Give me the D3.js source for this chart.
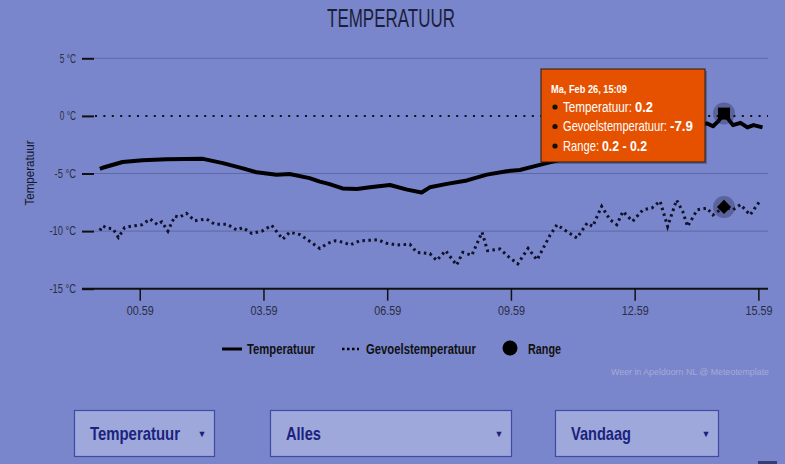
<!DOCTYPE html>
<html>
<head>
<meta charset="utf-8">
<script src="https://cdn.jsdelivr.net/npm/d3@7"></script>
<style>
  body { margin: 0; background: #7986cb; }
  svg { display: block; font-family: 'Liberation Sans', Arial, sans-serif; }
</style>
</head>
<body>
<svg id="main"></svg>
<script>
// temperatuur (solid)
const tempTimes = ['00:01','00:05','00:34','01:03','01:38','02:31','03:00','03:29','03:49','04:18','04:37','05:06','05:21','05:34',
  '05:54','06:15','06:34','07:03','07:28','07:49','08:01','08:26','08:55','09:24','09:53','10:12','10:31','10:51',
  '11:39','12:37','13:36','14:19','14:44','14:53','15:00','15:09','15:22','15:33','15:43','15:52','16:05'];
const tempValues = [-4.6,-4.5,-4.0,-3.85,-3.76,-3.73,-4.1,-4.55,-4.9,-5.1,-5.05,-5.4,-5.7,-5.9,
  -6.3,-6.35,-6.2,-6.0,-6.4,-6.65,-6.2,-5.9,-5.6,-5.1,-4.8,-4.7,-4.4,-4.1,
  -3.4,-2.5,-1.6,-1.0,-0.65,-0.9,-0.5,0.2,-0.8,-0.6,-1.0,-0.8,-1.0];

// gevoelstemperatuur (dotted)
const feelTimes = ['00:01','00:05','00:12','00:20','00:28','00:37','00:49','01:02','01:14','01:25','01:31','01:40','01:50','01:57',
  '02:07','02:19','02:36','02:48','03:06','03:20','03:29','03:42','03:57','04:11','04:27','04:37','04:52','05:21','05:33',
  '05:43','05:54','06:05','06:19','06:45','06:58','07:13','07:32','07:42','08:01','08:11','08:24','08:40','08:49','09:02',
  '09:17','09:25','09:43','09:55','10:09','10:24','10:37','10:56','11:06','11:17','11:35','11:50','11:58','12:11','12:23',
  '12:33','12:42','12:56','13:11','13:24','13:36','13:47','14:00','14:09','14:16','14:30','14:44','14:53','15:09','15:22',
  '15:33','15:47','16:01'];
const feelValues = [-9.95,-9.55,-9.75,-9.8,-10.55,-9.7,-9.55,-9.45,-8.95,-9.45,-9.2,-10.0,-8.7,-8.8,
  -8.45,-9.1,-8.95,-9.4,-9.4,-9.9,-9.7,-10.2,-10.0,-9.5,-10.7,-10.1,-10.3,-11.5,-11.05,
  -10.85,-10.95,-11.2,-10.85,-10.75,-11.05,-11.2,-11.15,-11.85,-11.95,-12.55,-11.7,-12.95,-11.85,-12.1,
  -10.1,-11.7,-11.55,-12.2,-12.85,-11.5,-12.5,-10.35,-9.45,-9.9,-10.6,-9.3,-9.6,-7.85,-9.0,
  -9.45,-8.3,-9.15,-8.15,-8.0,-7.4,-9.6,-7.3,-8.3,-9.6,-8.15,-8.0,-8.6,-7.9,-8.15,
  -7.7,-8.6,-7.4];

const yTicks = [-15, -10, -5, 0, 5];
const xTickTimes = ['00:59','03:59','06:59','09:59','12:59','15:59'];
const xDomain = ['2024-02-25 23:35', '2024-02-26 16:13'];
const hoverTime = '15:09';
const legendItems = ['Temperatuur', 'Gevoelstemperatuur', 'Range'];
const dropdowns = ['Temperatuur', 'Alles', 'Vandaag'];

const width = 785, height = 464;
const parseFull = d3.timeParse('%Y-%m-%d %H:%M');
const parse = t => parseFull('2024-02-26 ' + t);

// squeeze text horizontally to the narrow look of the original font
const fit = (sel, w) => sel.each(function () {
  const n = this.getComputedTextLength();
  const x0 = +this.getAttribute('x') || 0;
  const s = w / n;
  this.setAttribute('transform', `translate(${x0},0) scale(${s},1) translate(${-x0},0)`);
});

const svg = d3.select('#main')
  .attr('width', width)
  .attr('height', height);

const x = d3.scaleTime()
  .domain(xDomain.map(parseFull))
  .range([82, 768]);

const y = d3.scaleLinear()
  .domain([-15, 5])
  .range([288.7, 58.3]);

const temp = tempTimes.map((t, i) => ({ t: parse(t), v: tempValues[i] }));
const feel = feelTimes.map((t, i) => ({ t: parse(t), v: feelValues[i] }));

// title
svg.append('text')
  .text('TEMPERATUUR')
  .attr('x', 391)
  .attr('y', 27)
  .attr('text-anchor', 'middle')
  .attr('font-size', '25px')
  .attr('fill', '#1c1f3a')
  .call(fit, 128);

// grid lines
svg.selectAll('.grid')
  .data(yTicks.filter(d => d !== 0 && d !== -15))
  .enter()
  .append('line')
  .attr('class', 'grid')
  .attr('x1', 94)
  .attr('x2', 768)
  .attr('y1', d => y(d))
  .attr('y2', d => y(d))
  .attr('stroke', '#5e68a6')
  .attr('stroke-width', 1);

// freezing line
svg.append('line')
  .attr('x1', 95)
  .attr('x2', 768)
  .attr('y1', y(0))
  .attr('y2', y(0))
  .attr('stroke', '#111')
  .attr('stroke-width', 2)
  .attr('stroke-dasharray', '2,6.4');

// y axis
const yAxis = svg.append('g')
  .attr('transform', 'translate(94,0)')
  .call(d3.axisLeft(y).tickValues(yTicks).tickSize(12).tickPadding(6).tickFormat(d => d + ' °C'));
yAxis.select('.domain').remove();
yAxis.selectAll('.tick line').attr('stroke', '#111').attr('stroke-width', 2);
yAxis.selectAll('.tick text')
  .attr('font-family', null)
  .attr('font-size', '12px')
  .attr('fill', '#2a2d44')
  .each(function (d) { fit(d3.select(this), String(d).length * 5.2 + 11); });

svg.append('text')
  .text('Temperatuur')
  .attr('transform', 'translate(34,173) rotate(-90)')
  .attr('text-anchor', 'middle')
  .attr('font-size', '13px')
  .attr('fill', '#15172a')
  .attr('textLength', 65)
  .attr('lengthAdjust', 'spacingAndGlyphs');

// x axis
const xAxis = svg.append('g')
  .attr('transform', `translate(0,${y(-15)})`)
  .call(d3.axisBottom(x).tickValues(xTickTimes.map(parse)).tickSize(12).tickPadding(6)
    .tickFormat(d3.timeFormat('%H.%M')));
xAxis.select('.domain')
  .attr('d', `M82,0H768`)
  .attr('stroke', '#111')
  .attr('stroke-width', 2);
xAxis.selectAll('.tick line').attr('stroke', '#111').attr('stroke-width', 1.5);
xAxis.selectAll('.tick text')
  .attr('font-family', null)
  .attr('font-size', '12px')
  .attr('fill', '#2a2d44')
  .call(fit, 27);

// series
const line = d3.line()
  .x(d => x(d.t))
  .y(d => y(d.v));

svg.append('path')
  .datum(feel)
  .attr('d', line)
  .attr('fill', 'none')
  .attr('stroke', '#10122a')
  .attr('stroke-width', 3)
  .attr('stroke-dasharray', '2.5,3.5');

svg.append('path')
  .datum(temp)
  .attr('d', line)
  .attr('fill', 'none')
  .attr('stroke', '#000')
  .attr('stroke-width', 4)
  .attr('stroke-linejoin', 'round');

// hover markers
const hT = temp.find(d => d3.timeFormat('%H:%M')(d.t) === hoverTime);
const hF = feel.find(d => d3.timeFormat('%H:%M')(d.t) === hoverTime);

[hT, hF].forEach(d => {
  svg.append('circle')
    .attr('cx', x(d.t))
    .attr('cy', y(d.v))
    .attr('r', 11)
    .attr('fill', 'rgba(20,20,50,0.3)');
});
svg.append('rect')
  .attr('x', x(hT.t) - 6)
  .attr('y', y(hT.v) - 6)
  .attr('width', 12)
  .attr('height', 12)
  .attr('fill', '#000');
svg.append('rect')
  .attr('x', x(hF.t) - 5)
  .attr('y', y(hF.v) - 5)
  .attr('width', 10)
  .attr('height', 10)
  .attr('fill', '#000')
  .attr('transform', `rotate(45,${x(hF.t)},${y(hF.v)})`);

// tooltip
const nl = d3.timeFormatLocale({
  dateTime: '%a %e %B %Y %X', date: '%d-%m-%Y', time: '%H:%M:%S', periods: ['AM', 'PM'],
  days: ['zondag','maandag','dinsdag','woensdag','donderdag','vrijdag','zaterdag'],
  shortDays: ['Zo','Ma','Di','Wo','Do','Vr','Za'],
  months: ['januari','februari','maart','april','mei','juni','juli','augustus','september','oktober','november','december'],
  shortMonths: ['Jan','Feb','Mrt','Apr','Mei','Jun','Jul','Aug','Sep','Okt','Nov','Dec']
});

const tip = svg.append('g').attr('transform', 'translate(541,69)');
tip.append('rect')
  .attr('x', 2).attr('y', 2)
  .attr('width', 164).attr('height', 93)
  .attr('fill', 'rgba(0,0,0,0.25)');
tip.append('rect')
  .attr('width', 164).attr('height', 93)
  .attr('fill', '#e65100')
  .attr('stroke', '#2b1a10')
  .attr('stroke-width', 1);
tip.append('text')
  .text(nl.format('%a, %b %d, %H:%M')(hT.t))
  .attr('x', 10).attr('y', 24)
  .attr('font-size', '10.5px')
  .attr('font-weight', 'bold')
  .attr('fill', '#fff')
  .call(fit, 76);

// label, value, label width, value width
const tipRows = [
  ['Temperatuur:', hT.v.toFixed(1), 69, 18],
  ['Gevoelstemperatuur:', hF.v.toFixed(1), 104, 23],
  ['Range:', hT.v.toFixed(1) + ' - ' + hT.v.toFixed(1), 36, 45]
];
tipRows.forEach((r, i) => {
  const ty = 43 + i * 19.5;
  tip.append('circle')
    .attr('cx', 14).attr('cy', ty - 5)
    .attr('r', 2.6)
    .attr('fill', '#111');
  tip.append('text')
    .text(r[0])
    .attr('x', 22).attr('y', ty)
    .attr('font-size', '15px')
    .attr('fill', '#fff')
    .call(fit, r[2]);
  tip.append('text')
    .text(r[1])
    .attr('x', 22 + r[2] + 3).attr('y', ty)
    .attr('font-size', '15px')
    .attr('font-weight', 'bold')
    .attr('fill', '#fff')
    .call(fit, r[3]);
});

// legend
const leg = svg.append('g').attr('font-size', '14px').attr('font-weight', 'bold').attr('fill', '#111');
leg.append('line').attr('x1', 222).attr('x2', 242).attr('y1', 349).attr('y2', 349)
  .attr('stroke', '#000').attr('stroke-width', 3);
leg.append('text').text(legendItems[0]).attr('x', 247).attr('y', 354).call(fit, 68);
leg.append('line').attr('x1', 342).attr('x2', 359).attr('y1', 349).attr('y2', 349)
  .attr('stroke', '#000').attr('stroke-width', 2.5).attr('stroke-dasharray', '2.5,2.5');
leg.append('text').text(legendItems[1]).attr('x', 366).attr('y', 354).call(fit, 110);
leg.append('circle').attr('cx', 510).attr('cy', 348).attr('r', 7.5).attr('fill', '#000');
leg.append('text').text(legendItems[2]).attr('x', 528).attr('y', 354).call(fit, 33);

// credits
svg.append('text')
  .text('Weer in Apeldoorn NL @ Meteotemplate')
  .attr('x', 769)
  .attr('y', 375)
  .attr('text-anchor', 'end')
  .attr('font-size', '9px')
  .attr('fill', '#a4abd8')
  .call(fit, 158);

// dropdowns
const boxes = [[74, 140, 90], [270, 241, 35], [555, 163, 60]];
boxes.forEach((b, i) => {
  const g = svg.append('g').attr('transform', `translate(${b[0]},410)`);
  g.append('rect')
    .attr('x', 0.5).attr('y', 0.5)
    .attr('width', b[1]).attr('height', 46)
    .attr('fill', '#9fa8da')
    .attr('stroke', '#3f4aa6')
    .attr('stroke-width', 1.2);
  g.append('text')
    .text(dropdowns[i])
    .attr('x', 16).attr('y', 30)
    .attr('font-size', '18px')
    .attr('font-weight', 'bold')
    .attr('fill', '#1a237e')
    .call(fit, b[2]);
  g.append('text')
    .text('▼')
    .attr('x', b[1] - 12).attr('y', 27)
    .attr('text-anchor', 'middle')
    .attr('font-size', '9px')
    .attr('fill', '#1a237e');
});

svg.append('rect')
  .attr('x', 758).attr('y', 461)
  .attr('width', 19).attr('height', 3)
  .attr('fill', '#353c78');
</script>
</body>
</html>
